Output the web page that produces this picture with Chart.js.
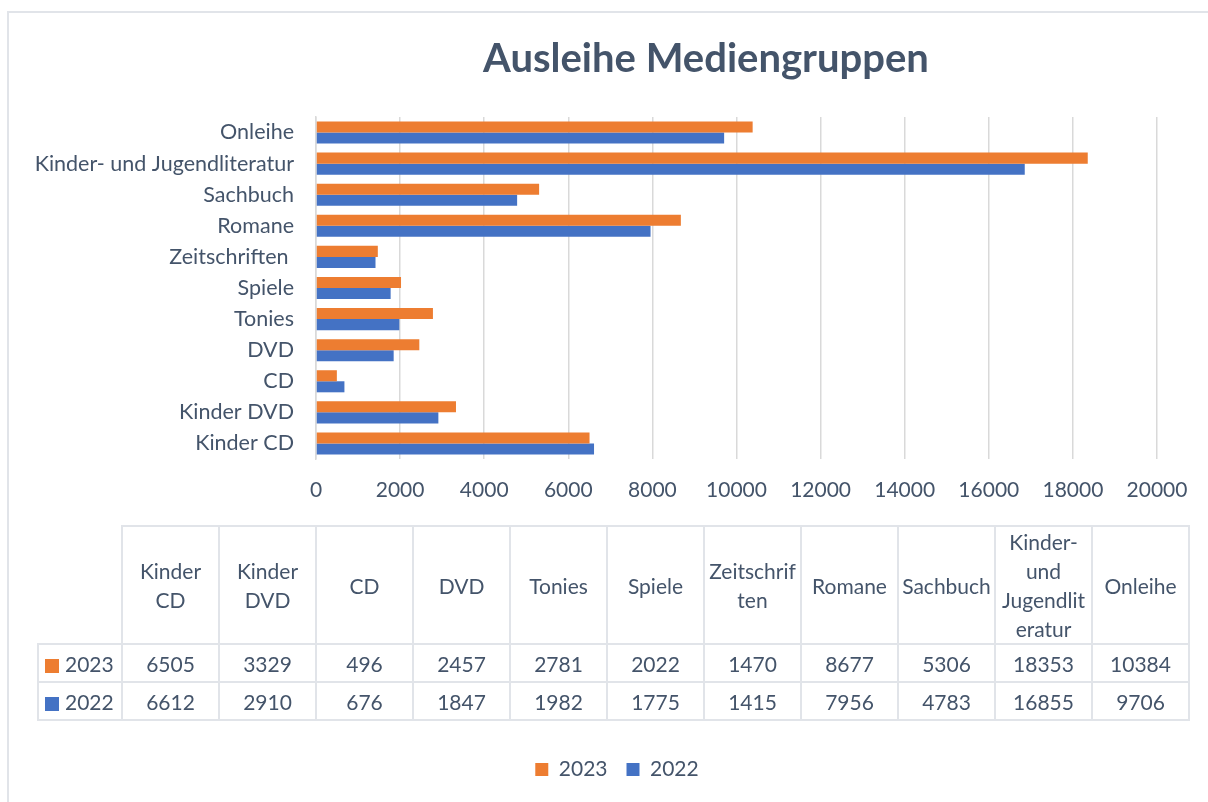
<!DOCTYPE html>
<html>
<head>
<meta charset="utf-8">
<script src="https://cdn.jsdelivr.net/npm/chart.js@4.4.1/dist/chart.umd.min.js"></script>
<style>
  body { margin: 0; background: #fff; }
  #wrap { position: relative; width: 1208px; height: 802px; overflow: hidden; background: #fff; font-family: Lato, sans-serif; color: #44546A; }
  #frame { position: absolute; left: 7px; top: 11px; width: 1300px; height: 900px; border: 2px solid #e1e4e9; }
  #myChart { position: absolute; left: 0; top: 0; }
  #title { position: absolute; left: 206px; width: 1000px; top: 33px; text-align: center; font-weight: bold; font-size: 40px; }
  #dataTable { position: absolute; left: 37px; top: 525px; border-collapse: collapse; font-size: 21px; table-layout: fixed; width: 1151px; }
  #dataTable td { border: 2px solid #e1e4e9; text-align: center; padding: 0; overflow: hidden; }
  #dataTable tr.head td { height: 115px; line-height: 29px; }
  #dataTable tr.row td { height: 36px; }
  #dataTable td.key { text-align: left; padding-left: 6px; }
  #dataTable td.blank { border-top: none; border-left: none; }
  .sq { display: inline-block; width: 14px; height: 14px; margin-right: 6px; vertical-align: -1px; }
</style>
</head>
<body>
<div id="wrap">
  <div id="frame"></div>
  <canvas id="myChart" width="1208" height="802"></canvas>
  <div id="title">Ausleihe Mediengruppen</div>
  <table id="dataTable"></table>
</div>
<script>
// categories from bottom to top of the chart (same order as the table)
let categories = ['Kinder CD', 'Kinder DVD', 'CD', 'DVD', 'Tonies', 'Spiele', 'Zeitschriften ', 'Romane', 'Sachbuch', 'Kinder- und Jugendliteratur', 'Onleihe'];
// header text of the table, broken like in the original
let tableHeads = ['Kinder\nCD', 'Kinder\nDVD', 'CD', 'DVD', 'Tonies', 'Spiele', 'Zeitschrif\nten', 'Romane', 'Sachbuch', 'Kinder-\nund\nJugendlit\neratur', 'Onleihe'];
let values2023 = [6505, 3329, 496, 2457, 2781, 2022, 1470, 8677, 5306, 18353, 10384];
let values2022 = [6612, 2910, 676, 1847, 1982, 1775, 1415, 7956, 4783, 16855, 9706];
let seriesNames = ['2023', '2022'];
let seriesColors = ['#ED7D31', '#4472C4'];

function buildTable() {
  let table = document.getElementById('dataTable');
  // column widths: legend key column, then one per category
  let cols = document.createElement('colgroup');
  let firstCol = document.createElement('col');
  firstCol.style.width = '84px';
  cols.appendChild(firstCol);
  for (let i = 0; i < tableHeads.length; i++) {
    let c = document.createElement('col');
    c.style.width = '97px';
    cols.appendChild(c);
  }
  table.appendChild(cols);

  let head = document.createElement('tr');
  head.className = 'head';
  let blank = document.createElement('td');
  blank.className = 'key blank';
  head.appendChild(blank);
  for (const h of tableHeads) {
    let td = document.createElement('td');
    td.innerHTML = h.split('\n').join('<br>');
    head.appendChild(td);
  }
  table.appendChild(head);
  let allValues = [values2023, values2022];
  for (let i = 0; i < seriesNames.length; i++) {
    let tr = document.createElement('tr');
    tr.className = 'row';
    let key = document.createElement('td');
    key.className = 'key';
    key.innerHTML = '<span class="sq" style="background:' + seriesColors[i] + '"></span>' + seriesNames[i];
    tr.appendChild(key);
    for (const v of allValues[i]) {
      let td = document.createElement('td');
      td.textContent = v;
      tr.appendChild(td);
    }
    table.appendChild(tr);
  }
}

// nudge the legend to the right so it sits centred like in the original
let legendShift = {
  id: 'legendShift',
  afterLayout(chart) {
    chart.legend.left += 29;
    chart.legend.right += 29;
  }
};

function drawChart() {
  Chart.defaults.font.family = 'Lato';
  Chart.defaults.font.size = 21;
  Chart.defaults.color = '#44546A';
  let ctx = document.getElementById('myChart').getContext('2d');
  let myBarChart = new Chart(ctx, {
    type: 'bar',
    data: {
      labels: categories,
      datasets: [{
        label: seriesNames[0],
        data: values2023,
        backgroundColor: seriesColors[0]
      }, {
        label: seriesNames[1],
        data: values2022,
        backgroundColor: seriesColors[1]
      }]
    },
    options: {
      indexAxis: 'y',
      responsive: false,
      animation: false,
      devicePixelRatio: 1,
      categoryPercentage: 0.71,
      barPercentage: 1,
      layout: {
        padding: { left: 19, right: 51, top: 117, bottom: 12 }
      },
      scales: {
        x: {
          min: 0,
          max: 20000,
          ticks: { stepSize: 2000, padding: 19, maxRotation: 0, callback: (v) => String(v) },
          grid: { color: '#d9d9d9', lineWidth: 1.5, drawTicks: false },
          border: { display: false },
          afterFit: (scale) => { scale.height = 281; }
        },
        y: {
          reverse: true,
          ticks: { padding: 22, autoSkip: false, font: { size: 21.5 } },
          grid: { display: false, drawTicks: false },
          border: { display: true, color: '#d9d9d9', width: 1.5 },
          afterFit: (scale) => { scale.width = 297; }
        }
      },
      plugins: {
        title: { display: false },
        tooltip: { enabled: false },
        legend: {
          position: 'bottom',
          labels: { boxWidth: 13, boxHeight: 13, padding: 19, font: { size: 21 } }
        }
      }
    },
    plugins: [legendShift]
  });
}

window.onload = function () {
  buildTable();
  drawChart();
}
</script>
</body>
</html>
